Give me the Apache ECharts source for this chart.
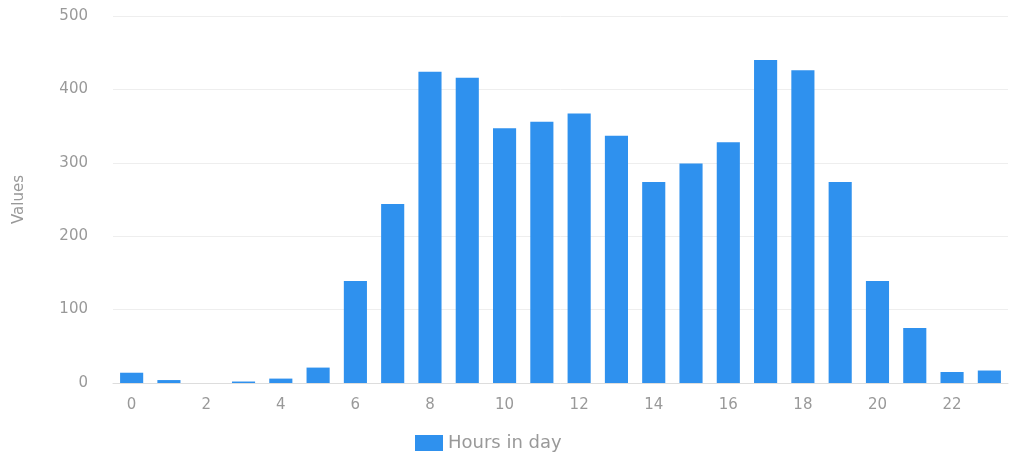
<!DOCTYPE html>
<html>
<head>
<meta charset="utf-8">
<style>
  html, body { margin: 0; padding: 0; background: #fff; }
  #chart { width: 1013px; height: 461px; }
</style>
<script src="https://cdn.jsdelivr.net/npm/echarts@6/dist/echarts.min.js"></script>
</head>
<body>
<div id="chart"></div>
<script>
// Hour of day (0–23) on the category axis
const hours = ['0','1','2','3','4','5','6','7','8','9','10','11','12','13','14','15','16','17','18','19','20','21','22','23'];
// Counts per hour
const hourValues = [14, 4, 0, 2, 6, 21, 139, 244, 424, 416, 347, 356, 367, 337, 274, 299, 328, 440, 426, 274, 139, 75, 15, 17];
const seriesName = 'Hours in day';
const yAxisName = 'Values';

const chart = echarts.init(document.getElementById('chart'));
chart.setOption({
  animation: false,
  textStyle: { fontFamily: 'DejaVu Sans' },
  grid: { left: 113, right: 5, top: 16, bottom: 78 },
  legend: {
    top: 429,
    left: 410,
    icon: 'rect',
    itemWidth: 28,
    itemHeight: 16,
    itemGap: 10,
    textStyle: { color: '#999', fontSize: 18, fontFamily: 'DejaVu Sans' },
    data: [seriesName]
  },
  xAxis: {
    type: 'category',
    data: hours,
    axisLine: { lineStyle: { color: '#ddd' } },
    axisTick: { show: false },
    axisLabel: {
      color: '#999', fontSize: 15, margin: 15,
      interval: 1
    }
  },
  yAxis: {
    type: 'value',
    min: 0, max: 500, interval: 100,
    name: yAxisName,
    nameLocation: 'middle',
    nameGap: 86,
    nameTextStyle: { color: '#999', fontSize: 15, fontFamily: 'DejaVu Sans' },
    axisLine: { show: false },
    axisTick: { show: false },
    axisLabel: { color: '#999', fontSize: 15, margin: 25 },
    splitLine: { lineStyle: { color: '#eee' } }
  },
  series: [{
    name: seriesName,
    type: 'bar',
    data: hourValues,
    barCategoryGap: '38%',
    itemStyle: { color: '#2f91ee' }
  }]
});
</script>
</body>
</html>
